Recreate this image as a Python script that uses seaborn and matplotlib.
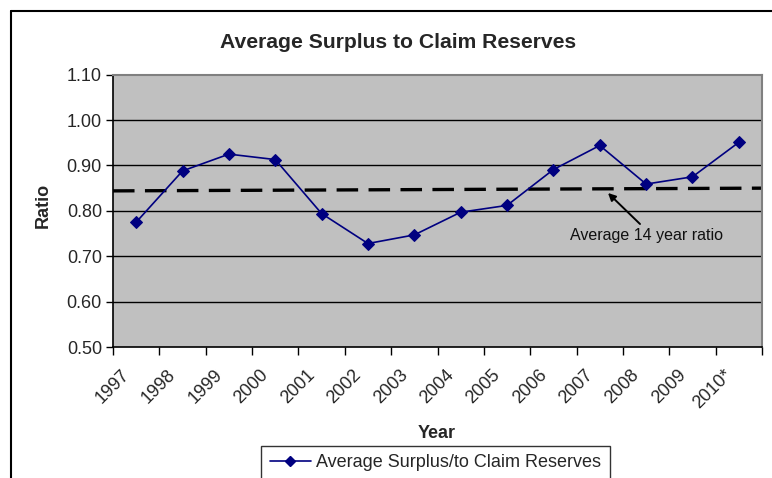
import numpy as np
import pandas as pd
import matplotlib
matplotlib.use("Agg")
import matplotlib.pyplot as plt
from matplotlib.lines import Line2D
import seaborn as sns

# Chart data
years = ["1997", "1998", "1999", "2000", "2001", "2002", "2003",
         "2004", "2005", "2006", "2007", "2008", "2009", "2010*"]
ratio = [0.775, 0.888, 0.925, 0.913, 0.794, 0.728, 0.747,
         0.797, 0.812, 0.891, 0.944, 0.859, 0.875, 0.951]
avg_line = [0.844, 0.850]          # dashed 14-year average, start and end
y_ticks = [0.50, 0.60, 0.70, 0.80, 0.90, 1.00, 1.10]
series_name = "Average Surplus/to Claim Reserves"
avg_note = "Average 14 year ratio"

sns.set_theme(style="white")
plt.rcParams["font.family"] = ["Liberation Sans", "DejaVu Sans"]
plt.rcParams["lines.scale_dashes"] = False

W, H = 772, 478
fig = plt.figure(figsize=(W / 100, H / 100), dpi=100)
fig.patch.set_facecolor("white")

# axes box in pixel terms
left, right, top, bottom = 113, 762, 74.7, 347
ax = fig.add_axes([left / W, 1 - bottom / H, (right - left) / W, (bottom - top) / H])
ax.set_facecolor("#C0C0C0")

df = pd.DataFrame({"pos": np.arange(len(years)), "ratio": ratio})

# horizontal grid
for t in y_ticks[1:-1]:
    ax.axhline(t, color="black", lw=1.0, zorder=1)

# dashed average line across the plot area
ax.plot([-0.5, len(years) - 0.5], avg_line, color="black", lw=2.4,
        linestyle=(0, (15.5, 7.5)), zorder=2)

sns.lineplot(data=df, x="pos", y="ratio", ax=ax, color="#000080", lw=1.2,
             marker="D", markersize=6.5, markeredgecolor="#000080",
             zorder=3, legend=False)

ax.set_xlim(-0.5, len(years) - 0.5)
ax.set_ylim(y_ticks[0], y_ticks[-1])
ax.set_yticks(y_ticks)
ax.set_yticklabels([f"{t:.2f}" for t in y_ticks], fontsize=13)

# ticks between categories; rotated labels hang just left of each category centre
ax.set_xticks(np.arange(len(years) + 1) - 0.5)
ax.set_xticklabels([])
ax.set_xticks(np.arange(len(years)) - 0.2, minor=True)
ax.set_xticklabels(years, minor=True, rotation=45, ha="right", va="center",
                   rotation_mode="anchor", fontsize=13)
ax.tick_params(axis="x", which="major", direction="out", length=6, width=1,
               color="black", bottom=True)
ax.tick_params(axis="x", which="minor", length=0, pad=18)
ax.tick_params(axis="y", direction="out", length=5, width=1, color="black",
               left=True, pad=3)

for side in ["left", "bottom"]:
    ax.spines[side].set_color("black")
    ax.spines[side].set_linewidth(1.2)
for side in ["top", "right"]:
    ax.spines[side].set_color("#808080")
    ax.spines[side].set_linewidth(1.5)

ax.set_xlabel("Year", fontsize=13, fontweight="bold", va="center")
ax.set_ylabel("Ratio", fontsize=13, fontweight="bold", va="center")
ax.xaxis.set_label_coords(0.499, (bottom - 433) / (bottom - top))
ax.yaxis.set_label_coords((43 - left) / (right - left), 0.52)

# note with arrow pointing at the average line
def px(x, y):
    """pixel position -> data coordinates of ax"""
    fx, fy = (x - left) / (right - left), (bottom - y) / (bottom - top)
    return ax.transData.inverted().transform(ax.transAxes.transform((fx, fy)))

ax.annotate("", xy=px(608, 193), xytext=px(640, 224),
            arrowprops=dict(arrowstyle="-|>", color="black", lw=1.4,
                            mutation_scale=11, shrinkA=0, shrinkB=0))
ax.text(*px(647, 236), avg_note, fontsize=11.5, ha="center", va="center",
        color="#111111")

# title
fig.text(398 / W, 1 - 42 / H, "Average Surplus to Claim Reserves",
         fontsize=15.2, fontweight="bold", ha="center", va="center")

# legend below the axis
handle = Line2D([], [], color="#000080", lw=1.2, marker="D", markersize=5.5)
leg = fig.legend([handle], [series_name], loc="upper center",
                 bbox_to_anchor=(435.5 / W, 1 - 446 / H), fontsize=13,
                 frameon=True, fancybox=False, handlelength=2.3,
                 handletextpad=0.3, borderpad=0.45, borderaxespad=0)
leg.get_frame().set_edgecolor("black")
leg.get_frame().set_linewidth(1.0)

# chart frame, running off the right and bottom edges
fig.add_artist(Line2D([11 / W, 11 / W], [0, 1 - 11 / H], color="black", lw=1.5,
                      transform=fig.transFigure))
fig.add_artist(Line2D([11 / W, 1.0], [1 - 11 / H, 1 - 11 / H], color="black",
                      lw=1.5, transform=fig.transFigure))

fig.savefig("out.png", dpi=100)
